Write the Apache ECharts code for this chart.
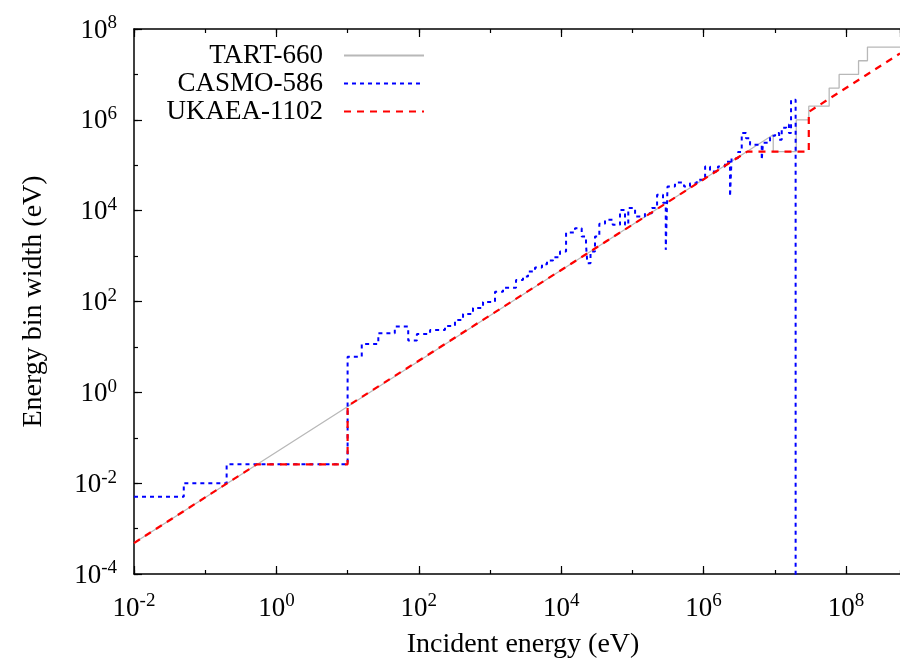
<!DOCTYPE html>
<html>
<head>
<meta charset="UTF-8">
<title>Energy bin width</title>
<script src="https://cdn.jsdelivr.net/npm/echarts@6/dist/echarts.min.js"></script>
<style>
  html, body { margin: 0; padding: 0; background: #fff; }
  #main { width: 900px; height: 667px; }
</style>
</head>
<body>
<div id="main"></div>
<script>
// TART-660 group structure (incident energy eV, bin width eV)
var tartEnergy = [0.01, 9.5e6, 9.5e6, 2e7, 2e7, 3e7, 3e7, 5.8e7, 5.8e7, 8e7, 8e7, 1.5e8, 1.5e8, 2e8, 2e8, 5.73e8];
var tartWidth  = [4.8e-4, 4.7e5, 2e5, 2e5, 1e6, 1e6, 2e6, 2e6, 5e6, 5e6, 1e7, 1e7, 2e7, 2e7, 4e7, 4e7];

// CASMO-586 (drawn as a staircase)
var casmoEnergy = [0.01, 0.05, 0.2, 10, 15.8, 27, 46, 71, 94, 144, 233, 322, 418, 577, 798,
  1175, 1523, 2318, 2906, 3420, 4285, 5370, 6320, 7680, 9620, 1.17e4, 1.56e4, 1.94e4, 2.23e4, 2.33e4,
  2.58e4, 2.98e4, 3.43e4, 4.12e4, 5.29e4, 6.7e4, 7.87e4, 8.75e4, 1.09e5, 1.5e5, 1.88e5, 2.22e5, 2.69e5, 2.94e5, 3.11e5,
  3.96e5, 5.31e5, 6.44e5, 8e5, 1.05e6, 1.23e6, 1.59e6, 2e6, 2.35e6, 2.47e6, 3.04e6, 3.43e6, 3.94e6, 4.49e6, 6.55e6,
  6.83e6, 8.57e6, 1.01e7, 1.15e7, 1.25e7, 1.44e7, 1.58e7, 1.69e7, 1.96e7];
var casmoWidth = [0.005, 0.01, 0.026, 6.1, 11.6, 20, 28, 13.8, 19.3, 23.7, 29, 39, 53, 72, 98,
  163, 200, 299, 353, 456, 558, 664, 796, 946, 1257, 3296, 4115, 2690, 1766, 698,
  1257, 2690, 5120, 6270, 4870, 1.04e4, 4870, 1.14e4, 7410, 8810, 1.15e4, 2.23e4, 1.49e4, 1370, 3.4e4,
  4.16e4, 3.4e4, 4.04e4, 4.77e4, 9.36e4, 7.26e4, 9.36e4, 1.2e5, 2.05e4, 1.43e5, 1.97e5, 5.1e5, 3.95e5, 2.81e5, 1.31e5,
  3.11e5, 4.44e5, 5.1e5, 3.63e5, 6.67e5, 7.76e5, 5.1e5, 2.76e6, 1e-6];

// UKAEA-1102
var ukaeaEnergy = [0.01, 0.53, 10, 10, 4.1e6, 3e7, 3e7, 5.73e8];
var ukaeaWidth  = [4.8e-4, 0.026, 0.026, 0.5, 2e5, 2e5, 1.5e6, 2.9e7];

var xMin = 0.01, xMax = 5.73e8;
var yMin = 1e-4, yMax = 1e8;

function pairs(xs, ys) {
  return xs.map(function (x, i) { return [x, ys[i]]; });
}

var serif = 'Liberation Serif';

function powLabel(v) {
  var e = Math.round(Math.log10(v));
  return '{b|10}{s|' + e + '}';
}
var richLabel = {
  b: { fontFamily: serif, fontSize: 27, lineHeight: 30, verticalAlign: 'bottom', color: '#000' },
  s: { fontFamily: serif, fontSize: 19, lineHeight: 12, verticalAlign: 'top', color: '#000' }
};

var gridRect = { left: 134, top: 29, right: 0, bottom: 93 };

var chart = echarts.init(document.getElementById('main'));
chart.setOption({
  animation: false,
  backgroundColor: '#fff',
  grid: [
    Object.assign({}, gridRect),
    Object.assign({}, gridRect)
  ],
  legend: {
    orient: 'vertical',
    align: 'right',
    right: 475,
    top: 42,
    padding: 0,
    itemWidth: 80,
    itemHeight: 20,
    itemGap: 1,
    itemStyle: { color: 'rgba(0,0,0,0)', borderWidth: 0 },
    textStyle: { fontFamily: serif, fontSize: 27, lineHeight: 20, color: '#000', padding: [0, 16, 0, 0] },
    data: ['TART-660', 'CASMO-586', 'UKAEA-1102']
  },
  xAxis: [
    {
      gridIndex: 0, type: 'log', logBase: 10, position: 'bottom',
      min: xMin, max: xMax, interval: 2,
      name: 'Incident energy (eV)', nameLocation: 'middle', nameGap: 57,
      nameTextStyle: { fontFamily: serif, fontSize: 28, color: '#000', padding: [0, 0, 0, 12] },
      axisLine: { lineStyle: { color: '#000', width: 1.5 } },
      axisTick: { inside: true, length: 8, lineStyle: { color: '#000', width: 1.2 } },
      axisLabel: { margin: 18, formatter: powLabel, rich: richLabel, showMaxLabel: false },
      splitLine: { show: false }
    },
    {
      gridIndex: 0, type: 'log', logBase: 10, position: 'top',
      min: xMin, max: xMax, interval: 2,
      axisLine: { lineStyle: { color: '#000', width: 1.5 } },
      axisTick: { inside: true, length: 8, lineStyle: { color: '#000', width: 1.2 } },
      axisLabel: { show: false },
      splitLine: { show: false }
    },
    {
      gridIndex: 1, type: 'log', logBase: 10, position: 'bottom',
      min: xMin, max: xMax, interval: 1,
      axisLine: { show: false },
      axisTick: { inside: true, length: 4, lineStyle: { color: '#000', width: 1.2 } },
      axisLabel: { show: false },
      splitLine: { show: false }
    },
    {
      gridIndex: 1, type: 'log', logBase: 10, position: 'top',
      min: xMin, max: xMax, interval: 1,
      axisLine: { show: false },
      axisTick: { inside: true, length: 4, lineStyle: { color: '#000', width: 1.2 } },
      axisLabel: { show: false },
      splitLine: { show: false }
    }
  ],
  yAxis: [
    {
      gridIndex: 0, type: 'log', logBase: 10, position: 'left',
      min: yMin, max: yMax, interval: 2,
      name: 'Energy bin width (eV)', nameLocation: 'middle', nameGap: 86,
      nameTextStyle: { fontFamily: serif, fontSize: 28, color: '#000' },
      axisLine: { show: true, lineStyle: { color: '#000', width: 1.5 } },
      axisTick: { show: true, inside: true, length: 8, lineStyle: { color: '#000', width: 1.2 } },
      axisLabel: { margin: 17, formatter: powLabel, rich: richLabel },
      splitLine: { show: false }
    },
    {
      gridIndex: 1, type: 'log', logBase: 10, position: 'left',
      min: yMin, max: yMax, interval: 1,
      axisLine: { show: false },
      axisTick: { show: true, inside: true, length: 4, lineStyle: { color: '#000', width: 1.2 } },
      axisLabel: { show: false },
      splitLine: { show: false }
    }
  ],
  series: [
    {
      name: 'TART-660', type: 'line', xAxisIndex: 0, yAxisIndex: 0,
      data: pairs(tartEnergy, tartWidth),
      symbol: 'none', color: '#b8b8b8',
      lineStyle: { color: '#b8b8b8', width: 1.3 }
    },
    {
      name: 'CASMO-586', type: 'line', xAxisIndex: 0, yAxisIndex: 0,
      data: pairs(casmoEnergy, casmoWidth),
      step: 'end',
      symbol: 'none', color: '#0000ff',
      lineStyle: { color: '#0000ff', width: 2, type: [4, 4] }
    },
    {
      name: 'UKAEA-1102', type: 'line', xAxisIndex: 0, yAxisIndex: 0,
      data: pairs(ukaeaEnergy, ukaeaWidth),
      symbol: 'none', color: '#ff0000',
      lineStyle: { color: '#ff0000', width: 2.2, type: [7, 6] }
    }
  ]
});
</script>
</body>
</html>
